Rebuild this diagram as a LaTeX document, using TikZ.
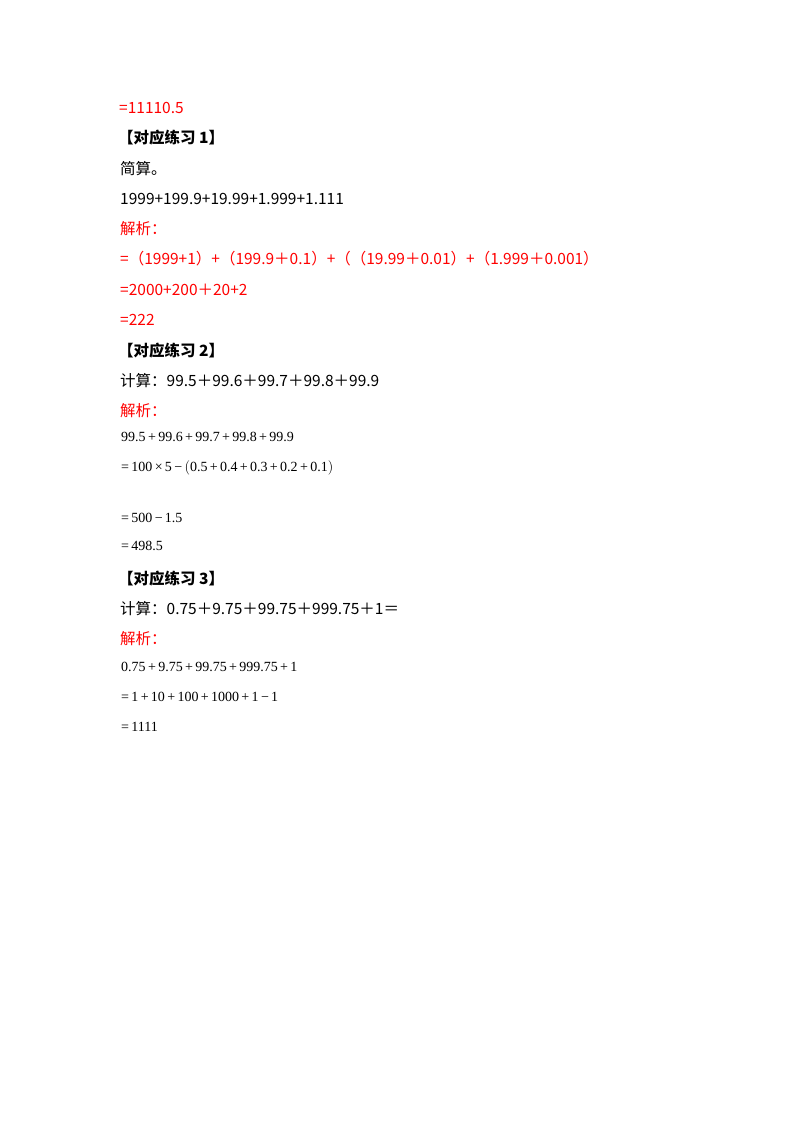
\documentclass[tikz,border=0pt]{standalone}
\usepackage{fontspec}
\newfontfamily\cjk{Noto Sans CJK SC}
\newfontfamily\tms{Liberation Serif}
\definecolor{ansred}{RGB}{255,0,0}
\newcommand\pl{\,+\,}
\newcommand\mi{\,−\,}
\newcommand\eq{=\,}
\begin{document}
\begin{tikzpicture}[x=1pt,y=-1pt,
  t/.style={anchor=west,inner sep=0pt,font=\cjk\fontsize{15.5}{17}\selectfont},
  r/.style={t,text=ansred},
  h/.style={t,font=\cjk\bfseries\fontsize{15.5}{17}\selectfont},
  m/.style={anchor=west,inner sep=0pt,font=\tms\fontsize{14}{16}\selectfont}]
\useasboundingbox (0,0) rectangle (800,1132);
\node[r] (a1) at (119,108) {=11110.5};
\node[h] (a2) at (118,138) {【对应练习 1】};
\node[t] (a3) at (120,169) {简算。};
\node[t] (a4) at (120,199) {1999+199.9+19.99+1.999+1.111};
\node[r] (a5) at (120,229) {解析：};
\node[r] (a6) at (120,259) {=（1999+1）+（199.9＋0.1）+（（19.99＋0.01）+（1.999＋0.001）};
\node[r] (a7) at (120,290) {=2000+200＋20+2};
\node[r] (a8) at (120,320) {=222};
\node[h] (b1) at (118,351) {【对应练习 2】};
\node[t] (b2) at (120,381) {计算：99.5＋99.6＋99.7＋99.8＋99.9};
\node[r] (b3) at (120,411) {解析：};
\node[m] (b4) at (121,437) {99.5\pl99.6\pl99.7\pl99.8\pl99.9};
\node[m] (b5) at (121,468) {\eq100\,×\,5\,−\,$\bigl($0.5\pl0.4\pl0.3\pl0.2\pl0.1$\bigr)$};
\node[m] (b6) at (121,518) {\eq500\mi1.5};
\node[m] (b7) at (121,546) {\eq498.5};
\node[h] (c1) at (118,579) {【对应练习 3】};
\node[t] (c2) at (120,609) {计算：0.75＋9.75＋99.75＋999.75＋1＝};
\node[r] (c3) at (120,639) {解析：};
\node[m] (c4) at (121,667) {0.75\pl9.75\pl99.75\pl999.75\pl1};
\node[m] (c5) at (121,697) {\eq1\pl10\pl100\pl1000\pl1\mi1};
\node[m] (c6) at (121,727) {\eq1111};
\end{tikzpicture}
\end{document}
